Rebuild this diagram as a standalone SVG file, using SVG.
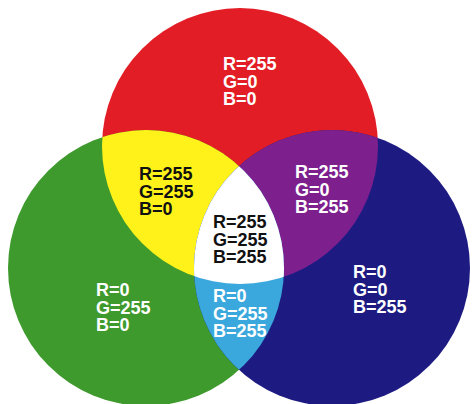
<svg xmlns="http://www.w3.org/2000/svg" width="472" height="404" viewBox="0 0 472 404">
<style>
text{font-family:"Liberation Sans",Arial,sans-serif;font-weight:bold;font-size:18px}
.w{fill:#ffffff}.k{fill:#111111}
</style>
<defs>
<clipPath id="cR"><circle cx="240" cy="146" r="138"/></clipPath>
<clipPath id="cG"><circle cx="146" cy="268" r="138"/></clipPath>
<clipPath id="cB"><circle cx="332" cy="268" r="138"/></clipPath>
</defs>
<rect width="472" height="404" fill="#ffffff"/>
<g id="red"><circle cx="240" cy="146" r="138" fill="#e31d25"/></g>
<g id="green"><circle cx="146" cy="268" r="138" fill="#3e9a2d"/></g>
<g id="blue"><circle cx="332" cy="268" r="138" fill="#1d1b82"/></g>
<g id="yellow" clip-path="url(#cR)"><circle cx="146" cy="268" r="138" fill="#fff21a"/></g>
<g id="magenta" clip-path="url(#cR)"><circle cx="332" cy="268" r="138" fill="#7d208e"/></g>
<g id="cyan" clip-path="url(#cG)"><circle cx="332" cy="268" r="138" fill="#3aa8dc"/></g>
<g id="white" clip-path="url(#cR)"><g clip-path="url(#cG)"><circle cx="332" cy="268" r="138" fill="#ffffff"/></g></g>
<g id="labels">
<text class="w" x="223" y="70">R=255</text><text class="w" x="223" y="87.5">G=0</text><text class="w" x="223" y="105">B=0</text>
<text class="k" x="139" y="180">R=255</text><text class="k" x="139" y="197.5">G=255</text><text class="k" x="139" y="215">B=0</text>
<text class="w" x="295" y="178">R=255</text><text class="w" x="295" y="195.5">G=0</text><text class="w" x="295" y="213">B=255</text>
<text class="k" x="213" y="228">R=255</text><text class="k" x="213" y="245.5">G=255</text><text class="k" x="213" y="263">B=255</text>
<text class="w" x="96" y="296">R=0</text><text class="w" x="96" y="313.5">G=255</text><text class="w" x="96" y="331">B=0</text>
<text class="w" x="213" y="302">R=0</text><text class="w" x="213" y="319.5">G=255</text><text class="w" x="213" y="337">B=255</text>
<text class="w" x="353" y="278">R=0</text><text class="w" x="353" y="295.5">G=0</text><text class="w" x="353" y="313">B=255</text>
</g>
</svg>
